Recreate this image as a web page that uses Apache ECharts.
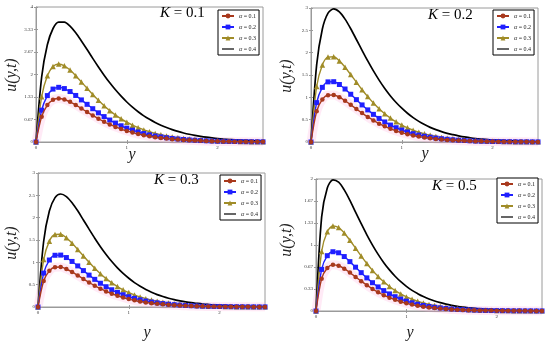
<!DOCTYPE html>
<html><head><meta charset="utf-8">
<script src="https://cdn.jsdelivr.net/npm/echarts@6/dist/echarts.min.js"></script>
<style>html,body{margin:0;padding:0;background:#fff}#c{width:550px;height:346px}</style>
</head><body><div id="c"></div>
<script>
const yPts = [0,0.0625,0.125,0.1875,0.25,0.3125,0.375,0.4375,0.5,0.5625,0.625,0.6875,0.75,0.8125,0.875,0.9375,1,1.0625,1.125,1.1875,1.25,1.3125,1.375,1.4375,1.5,1.5625,1.625,1.6875,1.75,1.8125,1.875,1.9375,2,2.0625,2.125,2.1875,2.25,2.3125,2.375,2.4375,2.5];

// K = 0.1
const k1_a1 = [0,0.751,1.095,1.249,1.29,1.260,1.191,1.098,0.993,0.889,0.786,0.689,0.600,0.519,0.446,0.383,0.328,0.279,0.236,0.200,0.169,0.142,0.120,0.101,0.084,0.071,0.059,0.049,0.041,0.034,0.028,0.023,0.019,0.016,0.014,0.011,0.009,0.008,0.006,0.005,0.004];
const k1_a2 = [0,0.943,1.375,1.568,1.62,1.583,1.495,1.379,1.247,1.116,0.987,0.865,0.753,0.651,0.561,0.481,0.411,0.350,0.296,0.251,0.212,0.178,0.151,0.126,0.105,0.089,0.075,0.062,0.052,0.043,0.036,0.029,0.024,0.021,0.017,0.014,0.012,0.010,0.008,0.007,0.006];
const k1_a3 = [0,1.344,1.961,2.236,2.31,2.257,2.132,1.966,1.779,1.592,1.407,1.234,1.074,0.929,0.799,0.686,0.587,0.499,0.423,0.358,0.303,0.254,0.215,0.180,0.150,0.127,0.106,0.088,0.074,0.061,0.051,0.042,0.035,0.029,0.024,0.020,0.017,0.014,0.011,0.009,0.008];
const k1_a4 = [0,1.931,2.881,3.363,3.552,3.552,3.431,3.234,2.995,2.742,2.478,2.224,1.981,1.753,1.546,1.357,1.185,1.032,0.896,0.775,0.671,0.578,0.496,0.428,0.368,0.314,0.268,0.229,0.196,0.167,0.142,0.121,0.102,0.087,0.074,0.062,0.053,0.045,0.038,0.032,0.027];

// K = 0.2
const k2_a1 = [0,0.687,0.953,1.049,1.053,1.003,0.924,0.833,0.739,0.647,0.561,0.482,0.411,0.350,0.296,0.249,0.209,0.175,0.145,0.121,0.100,0.083,0.069,0.057,0.047,0.039,0.032,0.026,0.021,0.017,0.014,0.012,0.010,0.008,0.006,0.005,0.004,0.003,0.003,0.002,0.002];
const k2_a2 = [0,0.881,1.223,1.346,1.350,1.287,1.186,1.069,0.948,0.830,0.719,0.619,0.528,0.449,0.379,0.320,0.268,0.224,0.186,0.155,0.129,0.107,0.088,0.073,0.060,0.050,0.041,0.033,0.027,0.022,0.018,0.015,0.012,0.010,0.008,0.007,0.005,0.004,0.004,0.003,0.002];
const k2_a3 = [0,1.244,1.726,1.901,1.907,1.816,1.674,1.509,1.338,1.171,1.016,0.874,0.745,0.634,0.536,0.451,0.378,0.317,0.263,0.219,0.182,0.151,0.125,0.103,0.085,0.070,0.057,0.047,0.039,0.032,0.026,0.021,0.017,0.014,0.012,0.009,0.008,0.006,0.005,0.004,0.003];
const k2_a4 = [0,1.734,2.530,2.885,2.98,2.911,2.751,2.536,2.295,2.053,1.815,1.591,1.386,1.198,1.031,0.885,0.757,0.644,0.545,0.462,0.390,0.328,0.277,0.232,0.194,0.164,0.137,0.113,0.095,0.079,0.066,0.054,0.045,0.038,0.031,0.026,0.021,0.018,0.015,0.012,0.010];

// K = 0.3
const k3_a1 = [0,0.583,0.809,0.891,0.894,0.851,0.785,0.707,0.627,0.549,0.476,0.410,0.349,0.297,0.251,0.212,0.177,0.149,0.123,0.103,0.085,0.071,0.059,0.048,0.040,0.033,0.027,0.022,0.018,0.015,0.012,0.010,0.008,0.007,0.005,0.004,0.004,0.003,0.002,0.002,0.002];
const k3_a2 = [0,0.758,1.052,1.158,1.162,1.107,1.020,0.920,0.815,0.714,0.619,0.532,0.454,0.386,0.326,0.275,0.230,0.193,0.160,0.133,0.111,0.092,0.076,0.063,0.052,0.043,0.035,0.029,0.024,0.019,0.016,0.013,0.011,0.009,0.007,0.006,0.005,0.004,0.003,0.002,0.002];
const k3_a3 = [0,1.063,1.474,1.624,1.629,1.551,1.430,1.289,1.143,1.000,0.868,0.746,0.636,0.541,0.458,0.385,0.323,0.271,0.225,0.187,0.155,0.129,0.107,0.088,0.072,0.060,0.049,0.040,0.033,0.027,0.022,0.018,0.015,0.012,0.010,0.008,0.007,0.005,0.004,0.003,0.003];
const k3_a4 = [0,1.472,2.148,2.449,2.53,2.472,2.335,2.153,1.948,1.743,1.541,1.351,1.176,1.017,0.875,0.751,0.643,0.546,0.463,0.392,0.331,0.278,0.235,0.197,0.164,0.139,0.116,0.096,0.081,0.067,0.056,0.046,0.038,0.032,0.027,0.022,0.018,0.015,0.012,0.010,0.009];

// K = 0.5
const k4_a1 = [0,0.490,0.652,0.699,0.686,0.642,0.582,0.517,0.452,0.391,0.334,0.284,0.240,0.202,0.169,0.140,0.116,0.097,0.080,0.066,0.054,0.044,0.036,0.030,0.024,0.020,0.016,0.013,0.011,0.009,0.007,0.006,0.005,0.004,0.003,0.002,0.002,0.002,0.001,0.001,0.001];
const k4_a2 = [0,0.630,0.838,0.898,0.882,0.825,0.748,0.664,0.581,0.502,0.429,0.365,0.309,0.259,0.217,0.180,0.149,0.124,0.103,0.084,0.069,0.057,0.047,0.038,0.031,0.025,0.021,0.017,0.014,0.011,0.009,0.007,0.006,0.005,0.004,0.003,0.003,0.002,0.002,0.001,0.001];
const k4_a3 = [0,0.903,1.201,1.287,1.264,1.183,1.072,0.952,0.832,0.720,0.615,0.524,0.442,0.372,0.311,0.258,0.214,0.178,0.147,0.121,0.099,0.082,0.067,0.055,0.045,0.036,0.030,0.024,0.020,0.016,0.013,0.010,0.009,0.007,0.006,0.005,0.004,0.003,0.002,0.002,0.002];
const k4_a4 = [0,1.427,1.863,1.988,1.952,1.835,1.676,1.498,1.323,1.154,0.999,0.858,0.732,0.623,0.527,0.444,0.374,0.312,0.263,0.219,0.182,0.151,0.126,0.104,0.086,0.071,0.059,0.049,0.040,0.033,0.027,0.022,0.018,0.015,0.012,0.010,0.008,0.007,0.006,0.005,0.004];

const panelK = ['0.1','0.2','0.3','0.5'];
const panelYMax = [4, 3, 3, 2];
const panelYStep = [4/6, 0.5, 0.5, 1/3];
const xMax = 2.5;
const xStep = 1;
const seriesNames = ['α = 0.1','α = 0.2','α = 0.3','α = 0.4'];
const panelData = [
  [k1_a1,k1_a2,k1_a3,k1_a4],
  [k2_a1,k2_a2,k2_a3,k2_a4],
  [k3_a1,k3_a2,k3_a3,k3_a4],
  [k4_a1,k4_a2,k4_a3,k4_a4]
];

const SERIF = '"Liberation Serif","DejaVu Serif",serif';
const grids = [
  {left:36, top:7, width:227, height:135},
  {left:311, top:8, width:227, height:134},
  {left:38, top:173, width:227, height:134},
  {left:316, top:179, width:226, height:132}
];
const legendPos = [
  {left:218, top:10}, {left:493, top:10}, {left:220, top:175}, {left:497, top:178}
];
const titlePos = [
  {left:160, top:6}, {left:428, top:8}, {left:154, top:173}, {left:432, top:179}
];
const uLabelPos = [[12,75],[287,76],[12,243],[287,240]];
const yLabelPos = [[132,155],[425,154],[147,333],[410,333]];

const styles = [
  {symbol:'circle', symbolSize:4.5, color:'#a8381c', width:1.4},
  {symbol:'rect', symbolSize:5, color:'#1f1fff', width:1.4},
  {symbol:'triangle', symbolSize:5.5, color:'#a08c28', width:1.4},
  {symbol:'none', symbolSize:0, color:'#000000', width:1.7}
];

const fmt = v => String(Math.round(v*100)/100);
const frameColor = '#9a9a9a';

const legendItems = seriesNames.map((n, s) => s === 3 ? {name:n, icon:'path://M0 0H24V2.4H0Z'} : {name:n});

const xAxis = [], yAxis = [], series = [], legend = [], title = [], graphic = [];
grids.forEach((g, i) => {
  g.show = true; g.borderColor = frameColor; g.borderWidth = 1; g.backgroundColor = '#fff';
  xAxis.push({
    type:'value', gridIndex:i, min:0, max:xMax, interval:xStep,
    axisLine:{show:true, lineStyle:{color:frameColor}},
    axisTick:{show:true, inside:true, length:2, lineStyle:{color:frameColor}},
    axisLabel:{show:true, fontSize:5, margin:3, color:'#333', fontFamily:SERIF, showMaxLabel:false, formatter:fmt},
    splitLine:{show:false}
  });
  xAxis.push({
    type:'value', gridIndex:i, position:'top', min:0, max:xMax, interval:xStep,
    axisLine:{show:false}, axisLabel:{show:false}, splitLine:{show:false},
    axisTick:{show:true, inside:true, length:2, lineStyle:{color:frameColor}}
  });
  yAxis.push({
    type:'value', gridIndex:i, min:0, max:panelYMax[i], interval:panelYStep[i],
    axisLine:{show:true, lineStyle:{color:frameColor}},
    axisTick:{show:true, inside:true, length:2, lineStyle:{color:frameColor}},
    axisLabel:{show:true, fontSize:5, margin:3, color:'#333', fontFamily:SERIF, formatter:fmt},
    splitLine:{show:false}
  });
  yAxis.push({
    type:'value', gridIndex:i, position:'right', min:0, max:panelYMax[i], interval:panelYStep[i],
    axisLine:{show:false}, axisLabel:{show:false}, splitLine:{show:false},
    axisTick:{show:true, inside:true, length:2, lineStyle:{color:frameColor}}
  });
  // faint pink halo seen in the reference around the lower curves
  series.push({
    type:'line', xAxisIndex:2*i, yAxisIndex:2*i, silent:true, symbol:'none', smooth:0.3,
    data: yPts.map((x,j)=>[x, panelData[i][0][j]]),
    lineStyle:{color:'rgba(255,160,215,0.22)', width:9}, z:1, legendHoverLink:false
  });
  panelData[i].forEach((vals, s) => {
    const st = styles[s];
    series.push({
      name: seriesNames[s], type:'line', xAxisIndex:2*i, yAxisIndex:2*i,
      data: yPts.map((x,j)=>[x, vals[j]]),
      smooth: 0.3, symbol: st.symbol, symbolSize: st.symbolSize, showSymbol: st.symbol !== 'none',
      itemStyle:{color: st.color}, lineStyle:{color: st.color, width: st.width},
      z: 3 + (3 - s), animation:false
    });
  });
  legend.push({
    data: legendItems, orient:'vertical', left:legendPos[i].left, top:legendPos[i].top,
    itemWidth:12, itemHeight:6, itemGap:5, itemTextGap:5, padding:[3,3,3,3],
    borderColor:'#000', borderWidth:1, backgroundColor:'#fff', borderRadius:0,
    selectedMode:false,
    formatter: n => '{i|α}' + n.slice(1),
    textStyle:{fontSize:6, fontFamily:SERIF, color:'#222', rich:{i:{fontStyle:'italic', fontSize:6, fontFamily:SERIF, color:'#222'}}}
  });
  title.push({
    text:'{i|K} = ' + panelK[i], left:titlePos[i].left, top:titlePos[i].top, padding:0,
    textStyle:{fontSize:15, fontWeight:'normal', fontFamily:SERIF, color:'#000',
      rich:{i:{fontStyle:'italic', fontSize:15, fontFamily:SERIF, color:'#000'}}}
  });
  graphic.push({
    type:'text', x:uLabelPos[i][0], y:uLabelPos[i][1], rotation:Math.PI/2, z:10,
    style:{text:'u(y,t)', fontSize:16, fontStyle:'italic', fontFamily:SERIF, fill:'#222',
      align:'center', verticalAlign:'middle', textAlign:'center', textVerticalAlign:'middle'}
  });
  graphic.push({
    type:'text', x:yLabelPos[i][0], y:yLabelPos[i][1], z:10,
    style:{text:'y', fontSize:16, fontStyle:'italic', fontFamily:SERIF, fill:'#222',
      align:'center', verticalAlign:'middle', textAlign:'center', textVerticalAlign:'middle'}
  });
});

const chart = echarts.init(document.getElementById('c'), null, {renderer:'canvas'});
chart.setOption({
  animation:false, backgroundColor:'#fff',
  grid: grids, xAxis, yAxis, series, legend, title, graphic
});
</script>
</body></html>
